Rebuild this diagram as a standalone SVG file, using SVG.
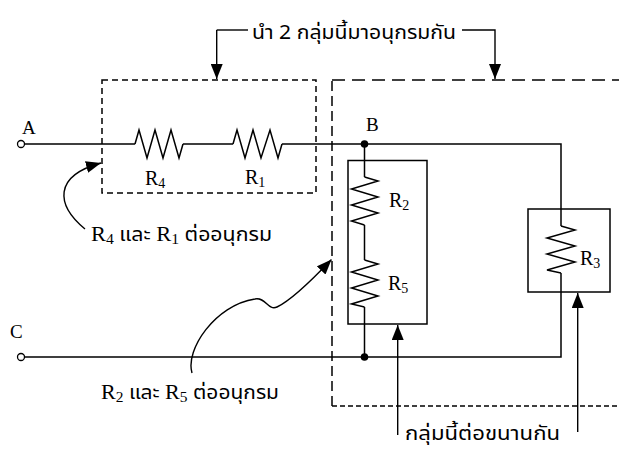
<svg xmlns="http://www.w3.org/2000/svg" width="619" height="450" viewBox="0 0 619 450">
<defs>
<style>
.w{fill:none;stroke:#000;stroke-width:1.5;stroke-linejoin:miter}
.a{fill:none;stroke:#000;stroke-width:1.4}
.box{fill:none;stroke:#000;stroke-width:1.5}
.dl{fill:none;stroke:#000;stroke-width:1.5;stroke-dasharray:6 4}
.lat{font-family:"Liberation Serif","Noto Serif Thai","Noto Sans Thai",serif;fill:#000}
.th{font-family:"Noto Sans Thai","Liberation Sans","Noto Sans",sans-serif;fill:#000}
</style>
<marker id="ah" viewBox="0 0 15 12" refX="15" refY="6" markerWidth="15" markerHeight="12" markerUnits="userSpaceOnUse" orient="auto">
<path d="M0 0 L15 6 L0 12 z" fill="#000"/>
</marker>
</defs>
<rect width="619" height="450" fill="#fff"/>

<g id="groups">
<rect id="seriesBox" x="102" y="80" width="214" height="113" class="dl"/>
<path id="parallelBox" d="M332 406 V80" fill="none" stroke="#000" stroke-width="1.5" stroke-dasharray="10 5"/>
<path d="M332 80 H619" fill="none" stroke="#000" stroke-width="1.5" stroke-dasharray="13 7"/>
<path d="M332 406 H619" fill="none" stroke="#000" stroke-width="1.5" stroke-dasharray="5 3"/>
<rect id="boxR2R5" x="348" y="160.5" width="79" height="163.5" class="box"/>
<rect id="boxR3" x="528" y="209" width="82" height="83" class="box"/>
</g>

<g id="connectors">
<path class="w" d="M24.5 144 H135 M183 144 H233 M282 144 H561 V226 M561 273 V357 H24.5"/>
<path class="w" d="M364.5 144 V177 M364.5 225 V260 M364.5 307 V357"/>
<path class="a" d="M216.7 30 V79" marker-end="url(#ah)"/>
<path class="a" d="M216.7 30 H248"/>
<path class="a" d="M462 30 H495 V79" marker-end="url(#ah)"/>
<path class="a" d="M85 229 C 56 205, 53 176, 101 163" marker-end="url(#ah)"/>
<path class="a" d="M192 373 C 185 350, 215 305, 255 299 C 266 297, 268 311, 277 307 C 292 300, 312 280, 331.5 259.5" marker-end="url(#ah)"/>
<path class="a" d="M397.7 435 V325" marker-end="url(#ah)"/>
<path class="a" d="M577.7 432 V293" marker-end="url(#ah)"/>
</g>

<g id="A">
<circle cx="21" cy="144" r="3.5" fill="#fff" stroke="#000" stroke-width="1.3"/>
<text x="22" y="134" class="lat" font-size="19">A</text>
</g>
<g id="C">
<circle cx="21" cy="357" r="3.5" fill="#fff" stroke="#000" stroke-width="1.3"/>
<text x="10" y="338" class="lat" font-size="19">C</text>
</g>
<g id="B">
<circle cx="364.5" cy="144" r="3.8" fill="#000"/>
<text x="366" y="131" class="lat" font-size="19">B</text>
</g>
<g id="junction">
<circle cx="364.5" cy="357" r="3.8" fill="#000"/>
</g>

<g id="R4">
<path class="w" d="M135 144 L139 130 L147 158 L155 130 L163 158 L171 130 L179 158 L183 144"/>
<text x="145" y="185" class="lat" font-size="20">R<tspan font-size="14" dy="3">4</tspan></text>
</g>
<g id="R1">
<path class="w" d="M233 144 L237 130 L245 158 L253 130 L261 158 L270 130 L278 158 L282 144"/>
<text x="245" y="184" class="lat" font-size="20">R<tspan font-size="14" dy="3">1</tspan></text>
</g>
<g id="R2">
<path class="w" d="M364.5 177 L378 181 L351.5 189 L378 197 L351.5 205 L378 213 L351.5 221 L364.5 225"/>
<text x="389" y="207" class="lat" font-size="20">R<tspan font-size="14" dy="3">2</tspan></text>
</g>
<g id="R5">
<path class="w" d="M364.5 260 L378 264 L351.5 272 L378 280 L351.5 288 L378 296 L351.5 304 L364.5 307"/>
<text x="388" y="290" class="lat" font-size="20">R<tspan font-size="14" dy="3">5</tspan></text>
</g>
<g id="R3">
<path class="w" d="M561 226 L575 230 L547 238 L575 246 L547 254 L575 262 L547 270 L561 273"/>
<text x="580" y="265" class="lat" font-size="20">R<tspan font-size="14" dy="3">3</tspan></text>
</g>

<g id="labels">
<text x="252" y="39" class="th" font-size="19" textLength="204" lengthAdjust="spacingAndGlyphs">นำ 2 กลุ่มนี้มาอนุกรมกัน</text>
<text x="91" y="241" class="lat" font-size="20" textLength="181" lengthAdjust="spacingAndGlyphs">R<tspan font-size="14" dy="3">4</tspan><tspan dy="-3" class="th" font-size="19"> และ </tspan>R<tspan font-size="14" dy="3">1</tspan><tspan dy="-3" class="th" font-size="19"> ต่ออนุกรม</tspan></text>
<text x="101" y="399" class="lat" font-size="20" textLength="178" lengthAdjust="spacingAndGlyphs">R<tspan font-size="14" dy="3">2</tspan><tspan dy="-3" class="th" font-size="19"> และ </tspan>R<tspan font-size="14" dy="3">5</tspan><tspan dy="-3" class="th" font-size="19"> ต่ออนุกรม</tspan></text>
<text x="405" y="440" class="th" font-size="19" textLength="155" lengthAdjust="spacingAndGlyphs">กลุ่มนี้ต่อขนานกัน</text>
</g>
</svg>
